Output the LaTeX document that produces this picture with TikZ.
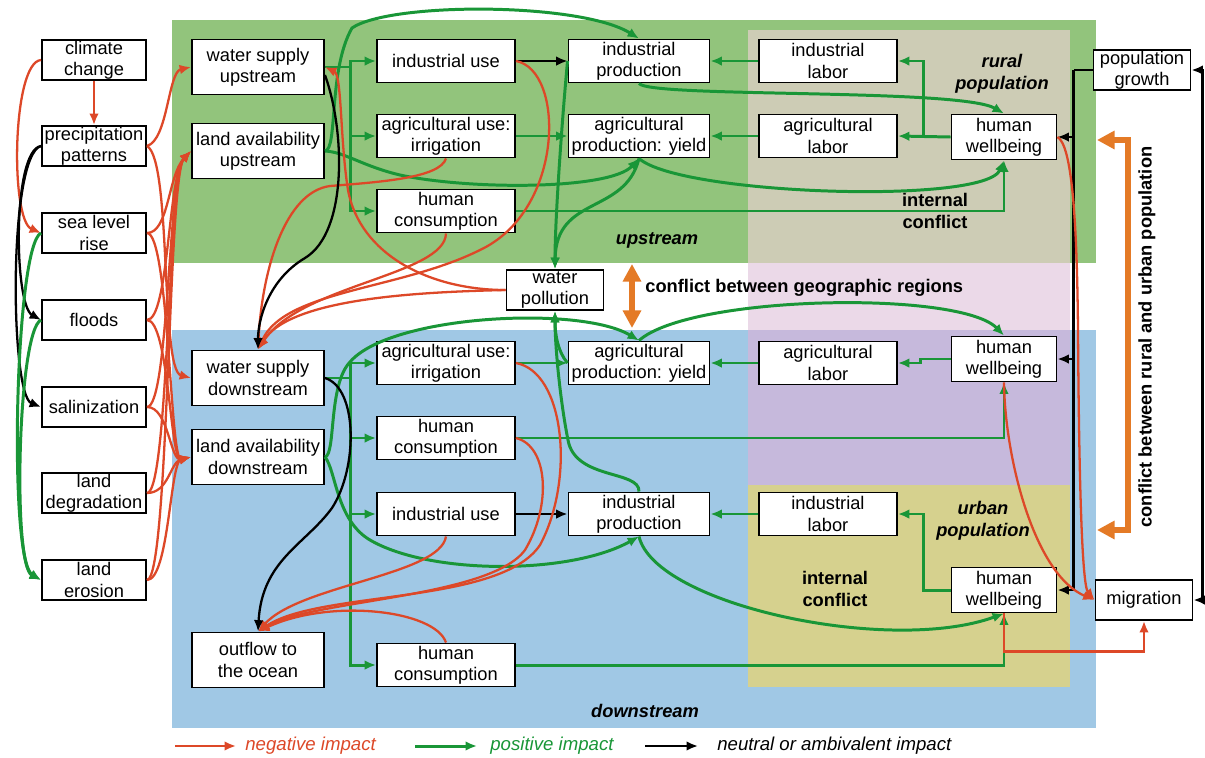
\documentclass[tikz,border=0pt]{standalone}
\usepackage{fontspec}
\setmainfont{Liberation Sans}
\usetikzlibrary{arrows.meta,calc}
\definecolor{upgreen}{RGB}{146,196,124}
\definecolor{rural}{RGB}{205,204,181}
\definecolor{pinkband}{RGB}{235,217,232}
\definecolor{downblue}{RGB}{160,200,229}
\definecolor{purp}{RGB}{198,185,220}
\definecolor{urban}{RGB}{214,209,142}
\definecolor{cneg}{RGB}{221,72,40}
\definecolor{cpos}{RGB}{25,150,55}
\definecolor{cconf}{RGB}{228,122,38}
\newcommand{\nodefnt}{\fontsize{10.4}{12}\selectfont}
\newcommand{\lblb}{\fontsize{10.4}{12.5}\selectfont\bfseries}
\newcommand{\lblbi}{\fontsize{10.4}{12.5}\selectfont\bfseries\itshape}
\newcommand{\legf}{\fontsize{10.6}{12}\selectfont\itshape}
\tikzset{
 box/.style={draw=black, fill=white, line width=1.1pt, inner sep=0pt, align=center, font=\nodefnt},
 lbox/.style={box, minimum width=2.08cm, minimum height=0.8cm},
 mbox/.style={box, minimum width=2.64cm, minimum height=1.1cm},
 ubox/.style={box, minimum width=2.76cm, minimum height=0.86cm},
 pbox/.style={box, minimum width=2.82cm, minimum height=0.86cm},
 hbox/.style={box, minimum width=2.1cm, minimum height=0.9cm},
 sbox/.style={box, minimum width=1.94cm, minimum height=0.8cm},
 negl/.style={draw=cneg, line width=1.3pt, ->},
 posl/.style={draw=cpos, line width=1.7pt, ->},
 neul/.style={draw=black, line width=1.3pt, ->},
 confl/.style={draw=cconf, line width=3pt, {Triangle[length=10pt,width=10pt]}-{Triangle[length=10pt,width=10pt]}},
 lbl/.style={align=center, inner sep=0pt},
}
\begin{document}
\begin{tikzpicture}[x=0.02cm, y=-0.02cm, >={Latex[length=6.5pt,width=5.5pt]}]
\useasboundingbox (0,0) rectangle (1205,758);
\fill[white] (0,0) rectangle (1205,758);
% regions
\fill[upgreen] (172,20) rectangle (1096,263);
\fill[rural] (748,30) rectangle (1070,263);
\fill[pinkband] (748,263) rectangle (1070,330);
\fill[downblue] (172,330) rectangle (1096,728);
\fill[purp] (748,330) rectangle (1070,485);
\fill[urban] (748,485) rectangle (1070,687);

% nodes: left column
\node[lbox] (cc) at (94,60) {climate\\change};
\node[lbox] (pp) at (94,146) {precipitation\\patterns};
\node[lbox] (slr) at (94,233) {sea level\\rise};
\node[lbox] (fl) at (94,320) {floods};
\node[lbox] (sal) at (94,407) {salinization};
\node[lbox] (ld) at (94,493) {land\\degradation};
\node[lbox] (le) at (94,580) {land\\erosion};
% supply / land
\node[mbox] (wsu) at (258,67) {water supply\\upstream};
\node[mbox] (lau) at (258,151) {land availability\\upstream};
\node[mbox] (wsd) at (258,378) {water supply\\downstream};
\node[mbox] (lad) at (258,457) {land availability\\downstream};
\node[mbox] (ocean) at (258,660) {outflow to\\the ocean};
% upstream
\node[ubox] (iuu) at (446,61) {industrial use};
\node[ubox] (auu) at (446,136) {agricultural use:\\irrigation};
\node[ubox] (hcu) at (446,211) {human\\consumption};
\node[pbox] (ipu) at (639,61) {industrial\\production};
\node[pbox] (apu) at (639,136) {agricultural\\production: yield};
\node[ubox] (ilu) at (828,61) {industrial\\labor};
\node[ubox] (alu) at (828,136) {agricultural\\labor};
\node[hbox] (hwr) at (1004,137) {human\\wellbeing};
\node[sbox] (pg) at (1142,70) {population\\growth};
\node[sbox] (wp) at (555,290) {water\\pollution};
% downstream
\node[ubox] (aud) at (446,363) {agricultural use:\\irrigation};
\node[pbox] (apd) at (639,363) {agricultural\\production: yield};
\node[ubox] (ald) at (828,363) {agricultural\\labor};
\node[hbox] (hwp) at (1004,359) {human\\wellbeing};
\node[ubox] (hcd) at (446,438) {human\\consumption};
\node[ubox] (iud) at (446,514) {industrial use};
\node[pbox] (ipd) at (639,514) {industrial\\production};
\node[ubox] (ild) at (828,514) {industrial\\labor};
\node[hbox] (hwu) at (1004,590) {human\\wellbeing};
\node[sbox] (mig) at (1144,600) {migration};
\node[ubox] (hce) at (446,665) {human\\consumption};

% labels
\node[lbl, font=\lblbi] (rural) at (1002,74) {rural\\population};
\node[lbl, font=\lblbi] (ups) at (657,240) {upstream};
\node[lbl, font=\lblb] (ic1) at (935,211) {internal\\conflict};
\node[lbl, font=\lblb, anchor=west] (cgr) at (645,288) {conflict between geographic regions};
\node[lbl, font=\lblb, rotate=90] (cru) at (1147,337) {conflict between rural and urban population};
\node[lbl, font=\lblbi] (dns) at (645,711) {downstream};
\node[lbl, font=\lblbi] (urb) at (983,521) {urban\\population};
\node[lbl, font=\lblb] (ic2) at (835,589) {internal\\conflict};

% left column connectors
\draw[negl] (cc.south) -- (pp.north);
\draw[negl] (cc.west) .. controls (12,62) and (10,220) .. (slr.west);
\draw[neul] (pp.west) .. controls (12,150) and (14,305) .. (fl.west);
\draw[neul] (pp.west) .. controls (8,155) and (10,395) .. (sal.west);
\draw[posl] (slr.west) .. controls (15,245) and (8,560) .. (le.west);
\draw[posl] (fl.west) .. controls (18,330) and (12,565) .. (le.west);
\draw[negl] (pp.east) .. controls (168,140) and (168,72) .. (wsu.west);
\draw[negl] (pp.east) .. controls (172,160) and (160,370) .. (wsd.west);
\foreach \s in {slr,fl,sal,ld,le}{
  \draw[negl] (\s.east) .. controls ($(\s.east)+(22,0)$) and (168,175) .. (lau.west);
  \draw[negl] (\s.east) .. controls ($(\s.east)+(22,0)$) and (170,462) .. (lad.west);
}

% upstream connectors
\coordinate (bu) at ($(wsu.east)+(26,0)$);
\draw[posl,-] (wsu.east) -- (bu);
\draw[posl] (bu) |- (iuu.west);
\draw[posl] (bu) |- (auu.west);
\draw[posl] (bu) |- (hcu.west);
\draw[posl] (lau.east) .. controls (338,150) and (328,70) .. (352,28) .. controls (390,2) and (580,2) .. (ipu.north);
\draw[posl] (lau.east) .. controls (345,152) and (362,166) .. (400,175) .. controls (470,190) and (610,190) .. (apu.south);
\draw[neul] (iuu.east) -- (ipu.west);
\draw[posl] (auu.east) -- (apu.west);
\draw[posl] (hcu.east) -| (hwr.south);
\draw[posl] (ilu.west) -- (ipu.east);
\draw[posl] (alu.west) -- (apu.east);
\draw[posl] (hwr.west) -- (alu.east);
\draw[posl] ($(hwr.west)+(-27,0)$) |- (ilu.east);
\draw[posl] (ipu.south) .. controls (650,98) and (960,88) .. (hwr.north);
\draw[posl] (apu.south) .. controls (680,195) and (985,205) .. (hwr.south);
\draw[posl] (ipu.west) .. controls (562,120) and (555,220) .. (wp.north);
\draw[posl] (apu.south) .. controls (625,215) and (556,195) .. (wp.north);
\draw[negl] (iuu.east) .. controls (565,70) and (565,210) .. (480,250) .. controls (400,290) and (285,290) .. (wsd.north);
\draw[negl] (auu.south) .. controls (440,178) and (380,182) .. (330,186) .. controls (285,192) and (262,270) .. (wsd.north);
\draw[negl] (hcu.south) .. controls (445,275) and (300,285) .. (wsd.north);
\draw[negl] (wp.west) .. controls (420,292) and (290,298) .. (wsd.north);
\draw[negl] (wp.west) .. controls (430,290) and (360,255) .. (348,190) .. controls (340,140) and (342,75) .. (wsu.east);
\draw[neul] ($(wsu.east)+(0,8)$) .. controls (345,130) and (348,232) .. (305,258) .. controls (268,280) and (258,320) .. (wsd.north);

% downstream connectors
\coordinate (bd) at ($(wsd.east)+(26,0)$);
\draw[posl,-] (wsd.east) -- (bd);
\draw[posl] (bd) |- (aud.west);
\draw[posl] (bd) |- (hcd.west);
\draw[posl] (bd) |- (iud.west);
\draw[posl] (bd) |- (hce.west);
\draw[posl] (lad.east) .. controls (336,455) and (328,385) .. (350,362) .. controls (390,315) and (580,305) .. (apd.north);
\draw[posl] (lad.east) .. controls (336,470) and (336,520) .. (370,540) .. controls (430,575) and (570,575) .. (ipd.south);
\draw[posl] (aud.east) -- (apd.west);
\draw[neul] (iud.east) -- (ipd.west);
\draw[posl] (ild.west) -- (ipd.east);
\draw[posl] (ald.west) -- (apd.east);
\draw[posl] (hwp.west) -- ++(-30,0) |- (ald.east);
\draw[posl] (hwu.west) -- ++(-27,0) |- (ild.east);
\draw[posl] (hcd.east) -| (hwp.south);
\draw[posl] (hce.east) -| (hwu.south);
\draw[posl] (apd.north) .. controls (690,295) and (960,290) .. (hwp.north);
\draw[posl] (ipd.south) .. controls (655,605) and (890,655) .. (hwu.south);
\draw[posl] (apd.west) .. controls (558,352) and (555,335) .. (wp.south);
\draw[posl] (ipd.north) .. controls (640,470) and (575,480) .. (568,440) .. controls (560,400) and (555,345) .. (wp.south);
\draw[negl] (iud.south) .. controls (440,575) and (300,585) .. (ocean.north);
\draw[negl] (aud.east) .. controls (565,372) and (575,480) .. (540,545) .. controls (500,605) and (320,590) .. (ocean.north);
\draw[negl] (hcd.east) .. controls (548,446) and (552,505) .. (525,550) .. controls (490,598) and (310,600) .. (ocean.north);
\draw[negl] (hce.north) .. controls (435,610) and (330,598) .. (ocean.north);
\draw[neul] (wsd.east) .. controls (358,388) and (358,468) .. (332,508) .. controls (305,545) and (262,560) .. (ocean.north);

% right side
\coordinate (pgv) at ($(pg.west)+(-19,0)$);
\draw[neul,-] (pg.west) -- (pgv);
\draw[neul] (pgv) |- (hwr.east);
\draw[neul] (pgv) |- (hwp.east);
\draw[neul] (pgv) |- (hwu.east);
\draw[neul,<->] (mig.east) -- ++(9,0) |- (pg.east);
\draw[negl] (hwr.east) .. controls (1072,145) and (1077,220) .. (1078,330) .. controls (1079,480) and (1082,585) .. (mig.west);
\draw[negl] (hwp.south) .. controls (1005,460) and (1035,575) .. (mig.west);
\draw[negl] (hwu.south) -- ++(0,38) -| (mig.south);

% conflicts
\coordinate (c1) at (632,264);
\coordinate (c2) at (632,328);
\draw[confl] (c1) -- (c2);
\coordinate (r1) at (1097,140);
\coordinate (r2) at (1097,530);
\draw[confl] (r1) -| (1128,530) -- (r2);

% legend
\coordinate (l1a) at (175,746); \coordinate (l1b) at (236,746);
\coordinate (l2a) at (415,746); \coordinate (l2b) at (477,746);
\coordinate (l3a) at (645,746); \coordinate (l3b) at (698,746);
\draw[negl] (l1a) -- (l1b);
\draw[posl] (l2a) -- (l2b);
\draw[neul] (l3a) -- (l3b);
\node[lbl, anchor=west, font=\legf, text=cneg] (t1) at (245,746) {negative impact};
\node[lbl, anchor=west, font=\legf, text=cpos] (t2) at (490,746) {positive impact};
\node[lbl, anchor=west, font=\legf] (t3) at (717,746) {neutral or ambivalent impact};
\end{tikzpicture}
\end{document}
